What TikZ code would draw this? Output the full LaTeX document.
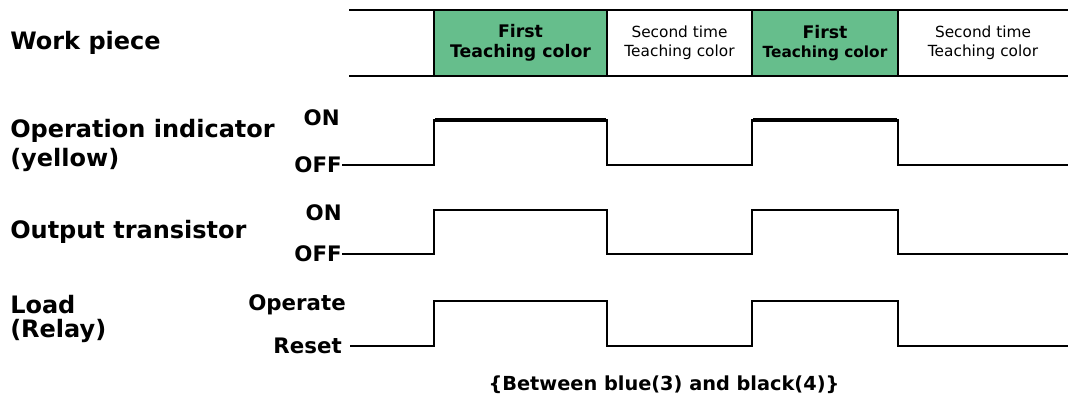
\documentclass[tikz,border=0pt]{standalone}
\usepackage{fontspec}
\setmainfont{DejaVu Sans}
\usepackage{tikz}
\usetikzlibrary{positioning}
\definecolor{teachgreen}{RGB}{102,190,140}

\begin{document}
\begin{tikzpicture}[x=0.75pt,y=-0.75pt,
    rowlabel/.style={anchor=west,font=\bfseries\fontsize{18}{20}\selectfont,inner sep=0pt},
    level/.style={anchor=east,font=\bfseries\fontsize{16}{18}\selectfont,inner sep=0pt},
    colbox/.style={minimum height=49.5pt,inner sep=0pt,align=center},
    wave/.style={line width=1.7pt,line join=miter}]
    \useasboundingbox (0,0) rectangle (1068,410);

    % work piece band
    \node[rowlabel] (wp) at (10,43) {Work piece};
    \node[colbox, fill=teachgreen, minimum width=129.75pt, font=\bfseries\fontsize{13}{15}\selectfont] (b1) at (520.5,43) {First\\Teaching color};
    \node[colbox, minimum width=108.75pt, font=\fontsize{11.5}{14}\selectfont] (b2) at (679.5,43) {Second time\\Teaching color};
    \node[colbox, fill=teachgreen, minimum width=109.5pt, font=\bfseries\fontsize{11.5}{14}\selectfont] (b3) at (825,43) {{\fontsize{13}{15}\selectfont First}\\Teaching color};
    \node[colbox, minimum width=127.5pt, font=\fontsize{11.5}{14}\selectfont] (b4) at (983,43) {Second time\\Teaching color};
    \draw[line width=1.5pt] (349,10) -- (1068,10) (349,76) -- (1068,76);
    \foreach \x in {434,607,752,898}
      \draw[line width=1.5pt] (\x,10) -- (\x,76);

    % operation indicator
    \node[rowlabel] (opind) at (10,131) {Operation indicator};
    \node[rowlabel] (opyel) at (10,160) {(yellow)};
    \node[level] (on1) at (340,118) {ON};
    \node[level] (off1) at (342,165) {OFF};
    \draw[wave] (off1.east) -- (434,165) -- (434,120) -- (607,120) -- (607,165)
      -- (752,165) -- (752,120) -- (898,120) -- (898,165) -- (1068,165);
    \draw[line width=2.6pt] (435,120) -- (606,120) (753,120) -- (897,120);

    % output transistor
    \node[rowlabel] (outtr) at (10,232) {Output transistor};
    \node[level] (on2) at (342,213) {ON};
    \node[level] (off2) at (342,254) {OFF};
    \draw[wave] (off2.east) -- (434,254) -- (434,210) -- (607,210) -- (607,254)
      -- (752,254) -- (752,210) -- (898,210) -- (898,254) -- (1068,254);

    % load (relay)
    \node[rowlabel] (load) at (10,305) {Load};
    \node[rowlabel] (relay) at (10,331) {(Relay)};
    \node[level] (oper) at (346,305) {Operate};
    \node[level] (reset) at (342,346) {Reset};
    \draw[wave] (reset.east) ++(6pt,0) -- (434,346) -- (434,301) -- (607,301) -- (607,346)
      -- (752,346) -- (752,301) -- (898,301) -- (898,346) -- (1068,346);

    \node[font=\bfseries\fontsize{14.5}{17}\selectfont,inner sep=0pt] (note) at (664,385) {\{Between blue(3) and black(4)\}};
  \end{tikzpicture}
\end{document}
